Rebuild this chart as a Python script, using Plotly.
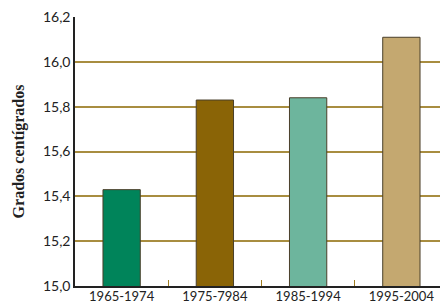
import plotly.graph_objects as go

categories = ["1965-1974", "1975-7984", "1985-1994", "1995-2004"]
values = [15.43, 15.83, 15.84, 16.11]
colors = ["#00845a", "#8a6406", "#6db59d", "#c4a870"]
y_ticks = [15.0, 15.2, 15.4, 15.6, 15.8, 16.0, 16.2]

fig = go.Figure(go.Bar(
    x=categories, y=values, width=0.4,
    marker=dict(color=colors, line=dict(color="#4a3f2a", width=1)),
))

# page body has an 8px margin, so the figure is 8px smaller than the window
fig.update_layout(
    width=440, height=296,
    margin=dict(l=67, r=0, t=9, b=18, autoexpand=False),
    plot_bgcolor="white", paper_bgcolor="white",
    separators=",.",
    showlegend=False,
    font=dict(family="Lato", size=13, color="#222"),
)
fig.update_xaxes(
    showline=True, linecolor="#222", linewidth=1.5,
    ticks="inside", tickson="boundaries", ticklen=6, tickcolor="#a07d20",
    tickfont=dict(family="Lato", size=13),
    ticklabelstandoff=-2,
    range=[-0.5, 3.5],
)
fig.update_yaxes(
    range=[15.0, 16.2005], tickvals=y_ticks, tickformat=".1f",
    showline=True, linecolor="#222", linewidth=1.5,
    showgrid=True, gridcolor="#a88d40", gridwidth=1.5,
    ticks="", tickfont=dict(family="Lato", size=14),
    title=dict(text="<b>Grados centígrados</b>", font=dict(family="Liberation Serif", size=16), standoff=14),
)

fig.write_html("out.html")
